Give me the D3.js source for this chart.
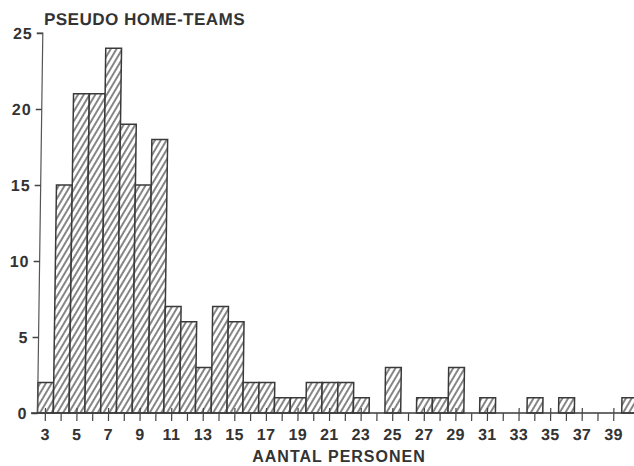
<!DOCTYPE html>
<html>
<head>
<meta charset="utf-8">
<script src="https://cdn.jsdelivr.net/npm/d3@7"></script>
<style>
  html, body { margin: 0; padding: 0; background: #fff; }
  svg { display: block; }
  text { font-family: "Liberation Sans", Arial, Helvetica, sans-serif; font-weight: bold; fill: #333; }
</style>
</head>
<body>
<svg id="chart" width="634" height="466"></svg>
<script>
// ---- data ----
const categories = d3.range(3, 41); // aantal personen 3..40
const counts = [2, 15, 21, 21, 24, 19, 15, 18, 7, 6, 3, 7, 6, 2, 2, 1, 1, 2, 2, 2, 1, 0, 3, 0, 1, 1, 3, 0, 1, 0, 0, 1, 0, 1, 0, 0, 0, 1];
const yTicks = [0, 5, 10, 15, 20, 25];
const xTickLabels = d3.range(3, 40, 2);
const title = "PSEUDO HOME-TEAMS";
const xTitle = "AANTAL PERSONEN";

const data = categories.map((c, i) => ({ cat: c, n: counts[i] }));

const W = 634, H = 466;
const baseY = 413;
const svg = d3.select("#chart");

const defs = svg.append("defs");
const pat = defs.append("pattern")
  .attr("id", "hatch")
  .attr("patternUnits", "userSpaceOnUse")
  .attr("width", 5).attr("height", 10)
  .attr("patternTransform", "rotate(30)");
pat.append("rect").attr("width", 5).attr("height", 10).attr("fill", "#fff");
pat.append("line")
  .attr("x1", 1).attr("y1", 0).attr("x2", 1).attr("y2", 10)
  .attr("stroke", "#444").attr("stroke-width", 1.3);

// whole chart slightly sheared like the scanned original
const g = svg.append("g")
  .attr("transform", `translate(0,${baseY}) skewX(-0.8) translate(0,${-baseY})`);

const x = d3.scaleBand()
  .domain(categories)
  .range([37.5, 37.5 + categories.length * 15.79])
  .padding(0);

const y = d3.scaleLinear().domain([0, 25]).range([baseY, 33]);

// bars
g.append("g").selectAll("rect")
  .data(data.filter(d => d.n > 0))
  .join("rect")
  .attr("x", d => x(d.cat))
  .attr("y", d => y(d.n))
  .attr("width", x.bandwidth())
  .attr("height", d => y(0) - y(d.n))
  .attr("fill", "url(#hatch)")
  .attr("stroke", "#3a3a3a")
  .attr("stroke-width", 1.5);

// y axis
const yAxis = g.append("g")
  .attr("transform", `translate(${x.range()[0]},0)`)
  .call(d3.axisLeft(y).tickValues(yTicks).tickSize(6).tickPadding(4));
yAxis.select(".domain").attr("stroke", "#555").attr("stroke-width", 1.2)
  .attr("d", `M-6,${y(25)}H0V${y(0)}`);
yAxis.selectAll(".tick line").attr("stroke", "#444").attr("stroke-width", 1.3);
yAxis.selectAll(".tick text")
  .style("font-size", "16px").style("letter-spacing", "1px")
  .attr("fill", "#333").attr("dy", "0.36em");

// x axis
const xAxis = g.append("g")
  .attr("transform", `translate(0,${baseY})`)
  .call(d3.axisBottom(x)
    .tickValues(categories.filter(c => c <= 39))
    .tickSize(8).tickPadding(8)
    .tickFormat(d => xTickLabels.includes(d) ? d : ""));
xAxis.select(".domain").attr("stroke", "#3a3a3a").attr("stroke-width", 1.6)
  .attr("d", `M31,0H${W + 5}`);
xAxis.selectAll(".tick line").attr("stroke", "#444").attr("stroke-width", 1.2);
xAxis.selectAll(".tick text")
  .style("font-size", "16px").style("letter-spacing", "0.3px")
  .attr("fill", "#333");

// upward ticks at labelled categories
g.append("g").selectAll("line")
  .data(xTickLabels)
  .join("line")
  .attr("x1", d => x(d) + x.bandwidth() / 2)
  .attr("x2", d => x(d) + x.bandwidth() / 2)
  .attr("y1", baseY).attr("y2", baseY - 5)
  .attr("stroke", "#444").attr("stroke-width", 1.2);

// titles
g.append("text")
  .attr("x", 38.5).attr("y", 25)
  .style("font-size", "17px").style("letter-spacing", "0.5px")
  .text(title);

svg.append("text")
  .attr("x", 339).attr("y", 462)
  .attr("text-anchor", "middle")
  .style("font-size", "16px").style("letter-spacing", "1px")
  .text(xTitle);
</script>
</body>
</html>
